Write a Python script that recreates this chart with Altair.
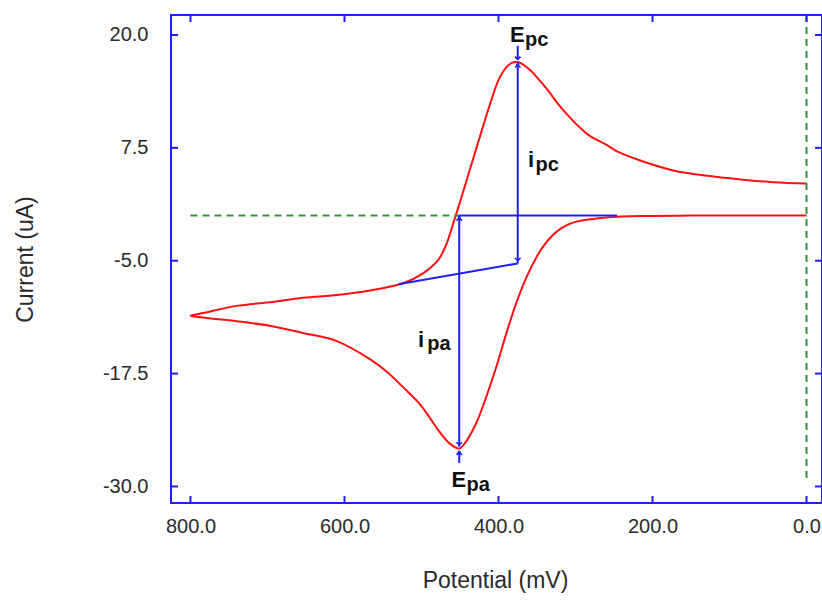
import altair as alt
import pandas as pd

# ---- data ----
# forward scan (0 -> 800 mV), then reverse scan (800 -> 0 mV)
fwd_mv = [0, 50, 100, 150, 200, 240, 270, 300, 310, 320, 330, 340, 350, 363, 377, 390, 403, 416,
          429, 442, 451, 464, 477, 490, 503, 524, 545, 567, 610, 654, 697, 740, 784, 800]
fwd_ua = [0.0, 0.0, 0.0, 0.0, -0.05, -0.1, -0.3, -0.7, -1.0, -1.5, -2.2, -3.2, -4.5, -6.7, -9.7, -13.1, -16.8, -20.1,
          -23.0, -25.0, -25.8, -25.2, -23.9, -22.3, -20.8, -19.0, -17.3, -15.9, -13.9, -13.0, -12.2, -11.7, -11.3, -11.1]
rev_mv = [784, 740, 697, 654, 610, 567, 524, 498, 479, 472, 466, 460, 450, 440, 430, 420, 410, 400, 390, 383,
          375, 360, 347, 337, 324, 311, 295, 281, 259, 246, 216, 173, 129, 86, 43, 0]
rev_ua = [-10.8, -10.0, -9.6, -9.1, -8.8, -8.3, -7.5, -6.4, -5.0, -4.0, -2.8, -1.2, 1.5, 4.3, 7.1, 9.9, 12.6, 15.0, 16.4, 16.9,
          17.0, 16.2, 15.0, 14.0, 12.5, 11.2, 9.8, 8.8, 7.8, 7.1, 6.1, 5.0, 4.4, 4.0, 3.7, 3.55]

x_ticks = [800, 600, 400, 200, 0]
y_ticks = [20, 7.5, -5, -17.5, -30]

# annotation segments (start mV, start uA, end mV, end uA)
seg_x1 = [451, 451, 530, 375, 375, 451]
seg_y1 = [0.0, 0.0, -7.6, -5.3, 18.8, -27.4]
seg_x2 = [246, 451, 375, 375, 375, 451]
seg_y2 = [0.0, -25.6, -5.3, 17.0, 17.3, -26.3]

# arrow heads
up_mv = [451, 375, 451]
up_ua = [-0.25, 16.7, -26.2]
down_mv = [451, 375, 375]
down_ua = [-25.4, -5.0, 17.3]

# baseline / switching potential guides
zero_mv = [800, 451]
zero_ua = [0, 0]
vert_mv = [0, 0]
vert_ua = [22.2, -29.2]

main_txt = ["E", "i", "i", "E"]
main_mv = [385.0, 361.7, 504.5, 461.0]
main_ua = [19.2, 5.38, -14.55, -30.05]
sub_txt = ["pc", "pc", "pa", "pa"]
sub_mv = [365.5, 352.0, 492.5, 441.5]
sub_ua = [18.75, 4.95, -14.85, -30.5]

BLUE = "#1e1eff"
RED = "#ff1010"
GREEN = "#2f962f"
FONT = "Liberation Sans"

xs = alt.Scale(domain=[-20.1, 825.3], reverse=True, nice=False, zero=False)
ys = alt.Scale(domain=[-31.83, 22.21], nice=False, zero=False)

cv = pd.DataFrame({
    "mv": fwd_mv + rev_mv,
    "ua": fwd_ua + rev_ua,
    "o": list(range(len(fwd_mv) + len(rev_mv))),
})

minus = "\u2212"
x_axis = alt.Axis(values=x_ticks, labelExpr=f"replace(format(datum.value, '.1f'), '{minus}', '-')",
                  title="Potential (mV)", titleX=324, titleY=77, titleAlign="center",
                  titleBaseline="middle", labelPadding=13, orient="bottom")
y_axis = alt.Axis(values=y_ticks, labelExpr=f"replace(format(datum.value, '.1f'), '{minus}', '-')",
                  title="Current (uA)", titleX=-146, titleY=244, titleAlign="center",
                  titleBaseline="middle", labelPadding=23, orient="left")


def X(f):
    return alt.X(f, scale=xs, axis=x_axis)


def Y(f):
    return alt.Y(f, scale=ys, axis=y_axis)


curve = alt.Chart(cv).mark_line(color=RED, strokeWidth=2, clip=True, interpolate="catmull-rom").encode(
    x=X("mv:Q"), y=Y("ua:Q"), order="o:Q",
)

zero_line = alt.Chart(pd.DataFrame({"mv": zero_mv, "ua": zero_ua})).mark_line(
    color=GREEN, strokeWidth=2, strokeDash=[7, 5]).encode(x=X("mv:Q"), y=Y("ua:Q"))

vert_line = alt.Chart(pd.DataFrame({"mv": vert_mv, "ua": vert_ua})).mark_line(
    color=GREEN, strokeWidth=2, strokeDash=[7, 5]).encode(x=X("mv:Q"), y=Y("ua:Q"))

segs = alt.Chart(pd.DataFrame({"x1": seg_x1, "y1": seg_y1, "x2": seg_x2, "y2": seg_y2})).mark_rule(
    color=BLUE, strokeWidth=2).encode(x=X("x1:Q"), y=Y("y1:Q"), x2="x2:Q", y2="y2:Q")

up_heads = alt.Chart(pd.DataFrame({"mv": up_mv, "ua": up_ua})).mark_point(
    shape="M-1,1L0,0L1,1", size=30, color=BLUE, strokeWidth=1.6, filled=False, opacity=1).encode(
    x=X("mv:Q"), y=Y("ua:Q"))
up_dots = alt.Chart(pd.DataFrame({"mv": up_mv, "ua": up_ua})).mark_point(
    shape="circle", size=10, color=BLUE, filled=True, opacity=1).encode(x=X("mv:Q"), y=Y("ua:Q"))
down_heads = alt.Chart(pd.DataFrame({"mv": down_mv, "ua": down_ua})).mark_point(
    shape="M-1,-1L0,0L1,-1", size=30, color=BLUE, strokeWidth=1.6, filled=False, opacity=1).encode(
    x=X("mv:Q"), y=Y("ua:Q"))

xt = pd.DataFrame({"v": x_ticks})
yt = pd.DataFrame({"v": y_ticks})
tick_b = alt.Chart(xt).mark_rule(color=BLUE, strokeWidth=2).encode(
    x=X("v:Q"), y=alt.value(488), y2=alt.value(481))
tick_t = alt.Chart(xt).mark_rule(color=BLUE, strokeWidth=2).encode(
    x=X("v:Q"), y=alt.value(0), y2=alt.value(7))
tick_l = alt.Chart(yt).mark_rule(color=BLUE, strokeWidth=2).encode(
    y=Y("v:Q"), x=alt.value(0), x2=alt.value(7))
tick_r = alt.Chart(yt).mark_rule(color=BLUE, strokeWidth=2).encode(
    y=Y("v:Q"), x=alt.value(651), x2=alt.value(644))

main_labels = alt.Chart(pd.DataFrame({"t": main_txt, "mv": main_mv, "ua": main_ua})).mark_text(
    font=FONT, fontSize=22, fontWeight="bold", color="#111",
    align="left", baseline="alphabetic").encode(x=X("mv:Q"), y=Y("ua:Q"), text="t:N")
sub_labels = alt.Chart(pd.DataFrame({"t": sub_txt, "mv": sub_mv, "ua": sub_ua})).mark_text(
    font=FONT, fontSize=20, fontWeight="bold", color="#111",
    align="left", baseline="alphabetic").encode(x=X("mv:Q"), y=Y("ua:Q"), text="t:N")

chart = alt.layer(
    curve, zero_line, vert_line, segs, up_heads, up_dots, down_heads,
    tick_b, tick_t, tick_l, tick_r, main_labels, sub_labels,
).properties(
    width=651, height=488,
    padding={"left": 171, "top": 15, "right": 0, "bottom": 102},
    autosize=alt.AutoSizeParams(type="none"),
    background="white",
).configure_view(
    stroke=BLUE, strokeWidth=2,
).configure_axis(
    domain=False, ticks=False, grid=False,
    labelFont=FONT, labelFontSize=20, labelColor="#2a2a2a",
    titleFont=FONT, titleFontSize=23, titleFontWeight="normal", titleColor="#2a2a2a",
)

chart.save("out.html", embed_options={"renderer": "svg", "actions": False})
